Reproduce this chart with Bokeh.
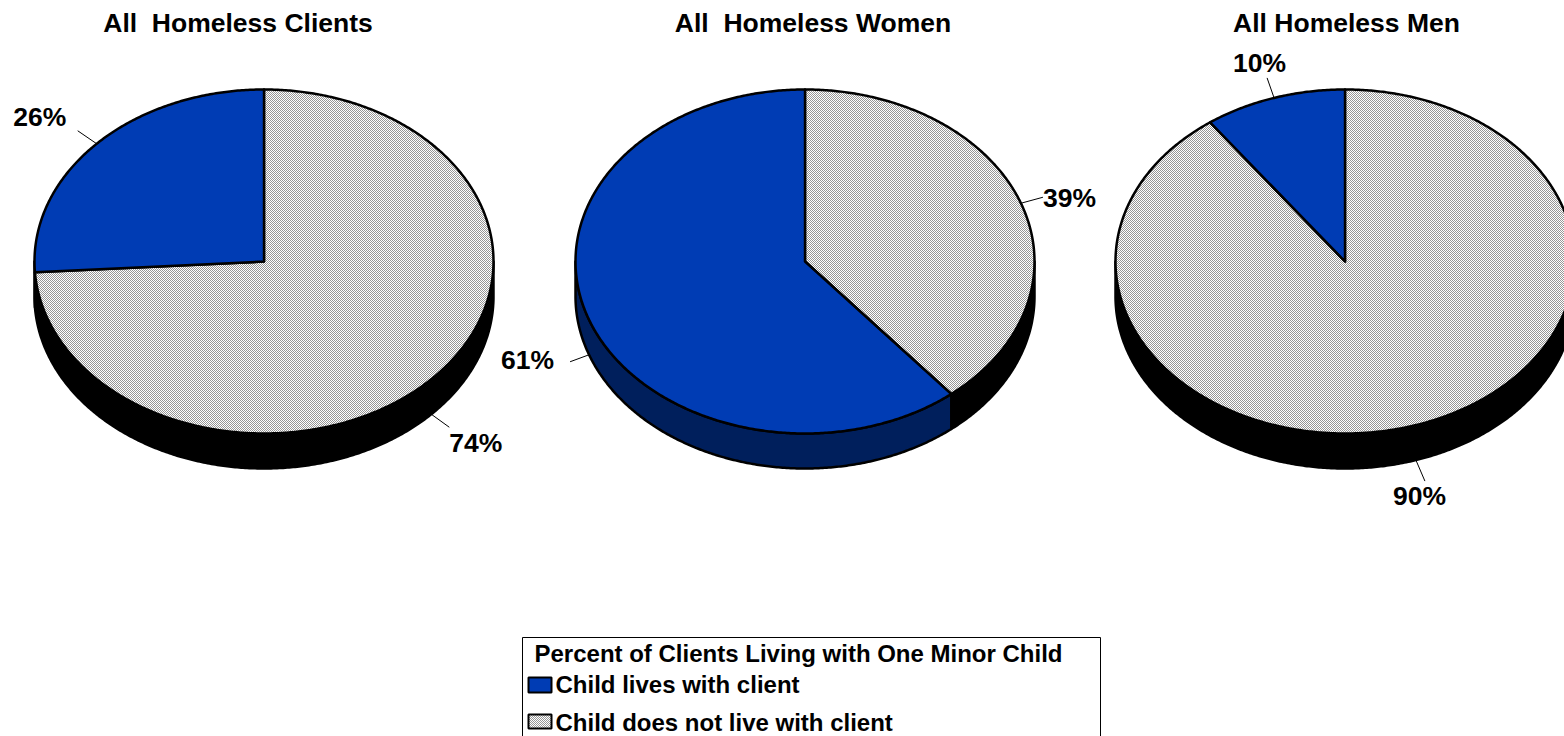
import math

import numpy as np
from bokeh.core.properties import value
from bokeh.embed import file_html
from bokeh.models import Range1d
from bokeh.plotting import figure
from bokeh.resources import INLINE

# Survey shares per group, in percent
groups = ["All\u00a0 Homeless Clients", "All\u00a0 Homeless Women", "All Homeless Men"]
lives_with = [26, 61, 10]
not_with = [74, 39, 90]

legend_title = "Percent of Clients Living with One Minor Child"
legend_labels = ["Child lives with client", "Child does not live with client"]

# Layout, in page pixels
CENTERS = [263.5, 804.5, 1344.5]
TITLE_X = [237.5, 812.5, 1346]
CY, RX, RY, DEPTH = 261, 229.5, 172, 35
FONT = value("Liberation Sans")
BLUE, DARK_BLUE = "#003cb4", "#001f5c"
DITHER = (0x96, 0x96, 0x96)

# Leader end point relative to the slice edge, then the label centre
lives_leader = [(-19, -13, -57, -26.5), (-19, 7, -61.5, 5.5), (-7, -20, -14.5, -35)]
not_leader = [(18, 13, 44.5, 28.5), (22, -6, 48.5, -5.5), (9, 21, 3.5, 35.5)]

p = figure(width=1564, height=736, output_backend="svg", toolbar_location=None,
           x_range=Range1d(0, 1564), y_range=Range1d(736, 0), min_border=0,
           outline_line_color=None, background_fill_color="white")
p.axis.visible = False
p.grid.visible = False


def rim(cx, start, stop, dy=0.0):
    """Points along the pie rim; angles run clockwise from twelve o'clock, in degrees."""
    n = max(2, int(abs(stop - start)) * 2 + 1)
    angles = [math.radians(start + (stop - start) * i / (n - 1)) for i in range(n)]
    return ([cx + RX * math.sin(a) for a in angles],
            [CY + dy - RY * math.cos(a) for a in angles])


def wall(cx, start, stop, color):
    """Front wall of the slice between two clockwise angles, limited to the visible half."""
    a, b = max(start, 90), min(stop, 270)
    if b <= a:
        return
    xt, yt = rim(cx, a, b)
    xb, yb = rim(cx, a, b, DEPTH)
    p.patch(xt + xb[::-1], yt + yb[::-1], fill_color=color,
            line_color="black", line_width=2.5, line_join="round")


def dither(x0, y0, mask):
    """Lay a one-pixel grey and white checker over the page region selected by mask."""
    h, w = mask.shape
    yy, xx = np.mgrid[y0:y0 + h, x0:x0 + w]
    dark = (xx + yy) % 2 == 0
    rgba = np.zeros((h, w, 4), dtype=np.uint8)
    rgba[..., 0] = np.where(dark, DITHER[0], 255)
    rgba[..., 1] = np.where(dark, DITHER[1], 255)
    rgba[..., 2] = np.where(dark, DITHER[2], 255)
    rgba[..., 3] = np.where(mask, 255, 0)
    view = rgba.view(dtype=np.uint32).reshape(h, w)
    # Bokeh's canvas carries a half-pixel offset; undo it so checker cells stay crisp.
    # The y range is inverted, so the image hangs below its anchor row.
    p.image_rgba(image=[view], x=[x0 - 0.5], y=[y0 - 0.5], dw=[w], dh=[h], dilate=False)


def grey_face(cx, stop):
    """Checker fill of the slice running clockwise from twelve o'clock to stop degrees."""
    x0, y0 = int(cx - RX) - 1, int(CY - RY) - 1
    w, h = int(2 * RX) + 3, int(2 * RY) + 3
    yy, xx = np.mgrid[y0:y0 + h, x0:x0 + w]
    u, v = (xx + 0.5 - cx) / RX, (yy + 0.5 - CY) / RY
    angle = np.degrees(np.arctan2(u, -v)) % 360
    dither(x0, y0, (u * u + v * v <= 1) & (angle <= stop))


def face(cx, start, stop, color):
    xs, ys = rim(cx, start, stop)
    p.patch([cx] + xs, [CY] + ys, fill_color=color, line_color="black",
            line_width=2.5, line_join="round")


def label(cx, share, mid, leader, dy):
    xs, ys = rim(cx, mid, mid, dy)
    x0, y0 = xs[0], ys[0]
    dx1, dy1, dx2, dy2 = leader
    p.line([x0, x0 + dx1], [y0, y0 + dy1], line_color="black", line_width=1)
    p.text([x0 + dx2], [y0 + dy2], text=[f"{share}%"], text_font=FONT,
           text_font_style="bold", text_font_size="26.5px", text_color="black",
           text_align="center", text_baseline="middle")


for i, title in enumerate(groups):
    cx = CENTERS[i]
    boundary = not_with[i] * 3.6  # clockwise end of the grey slice

    wall(cx, 0, boundary, "black")
    wall(cx, boundary, 360, DARK_BLUE)
    grey_face(cx, boundary)
    face(cx, 0, boundary, None)
    face(cx, boundary, 360, BLUE)

    p.text([TITLE_X[i]], [22], text=[title], text_font=FONT, text_font_style="bold",
           text_font_size="26.5px", text_color="black", text_align="center",
           text_baseline="middle")

    lives_mid = boundary + lives_with[i] * 1.8
    not_mid = boundary / 2
    label(cx, lives_with[i], lives_mid, lives_leader[i], 35 if 90 < lives_mid < 270 else 0)
    label(cx, not_with[i], not_mid, not_leader[i], 35 if 90 < not_mid < 270 else 0)

# Legend box, open past the bottom of the page
p.quad(left=[522], right=[1100], top=[637], bottom=[742], fill_color="white",
       line_color="black", line_width=1)
p.text([534], [653], text=[legend_title], text_font=FONT, text_font_style="bold",
       text_font_size="24px", text_color="black", text_baseline="middle")
p.quad(left=[528], right=[551], top=[677], bottom=[692], fill_color=BLUE,
       line_color="black", line_width=2)
dither(528, 714, np.ones((14, 23), dtype=bool))
p.quad(left=[528], right=[551], top=[714], bottom=[728], fill_color=None,
       line_color="black", line_width=2)
p.text([555, 555], [684, 722], text=legend_labels, text_font=FONT, text_font_style="bold",
       text_font_size="24px", text_color="black", text_baseline="middle")

open("out.html", "w").write(file_html(p, INLINE))
